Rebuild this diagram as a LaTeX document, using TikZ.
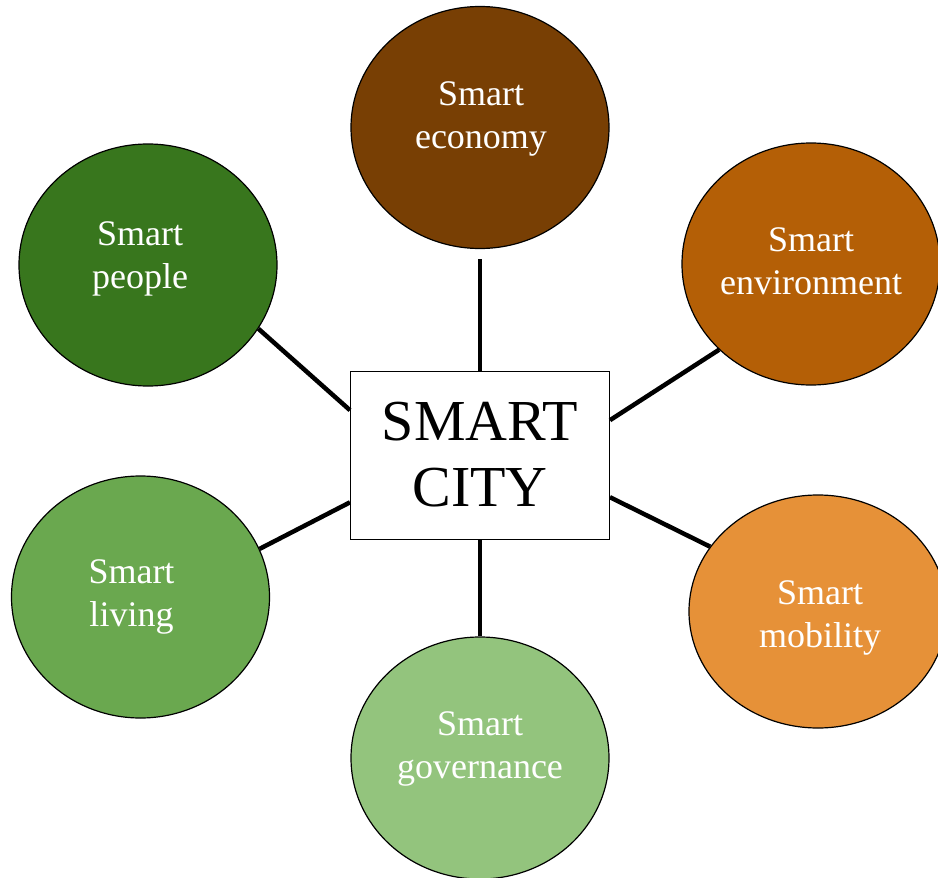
\documentclass[tikz,border=0pt]{standalone}
\usepackage{fontspec}
\setmainfont{Liberation Serif}
\usetikzlibrary{shapes.geometric}

\definecolor{econbrown}{HTML}{783F04}
\definecolor{envorange}{HTML}{B45F06}
\definecolor{mobiorange}{HTML}{E69138}
\definecolor{peoplegreen}{HTML}{38761D}
\definecolor{livinggreen}{HTML}{6AA84F}
\definecolor{govgreen}{HTML}{93C47D}

\begin{document}
\begin{tikzpicture}[x=1pt, y=-1pt,
    bubble/.style={ellipse, draw=black, line width=1.2pt, inner sep=0pt,
                   minimum width=258pt, minimum height=242pt},
    bubbletext/.style={text=white, align=center, font=\fontsize{36}{43}\selectfont},
    citybox/.style={draw=black, line width=1pt, fill=white, align=center,
                    minimum width=259pt, minimum height=168pt,
                    font=\fontsize{58}{66}\selectfont},
    link/.style={line width=4.5pt}]
    \useasboundingbox (0,0) rectangle (938,878);

    \node[citybox] (city) at (480,455) {SMART\\CITY};

    \node[bubble, fill=econbrown,
          label={[bubbletext, xshift=1pt, yshift=9pt]center:{Smart\\economy}}] (economy) at (480,127.5) {};
    \node[bubble, fill=envorange,
          label={[bubbletext, yshift=3pt]center:{Smart\\environment}}] (environment) at (811,264) {};
    \node[bubble, fill=peoplegreen,
          label={[bubbletext, xshift=-8pt, yshift=6pt]center:{Smart\\people}}] (people) at (148,265) {};
    \node[bubble, fill=livinggreen,
          label={[bubbletext, xshift=-9pt]center:{Smart\\living}}] (living) at (140.5,597) {};
    \node[bubble, fill=govgreen,
          label={[bubbletext, yshift=9pt]center:{Smart\\governance}}] (governance) at (480,758) {};
    \node[bubble, fill=mobiorange, minimum height=233pt,
          label={[bubbletext, xshift=2pt, yshift=-6pt]center:{Smart\\mobility}}] (mobility) at (818,611.5) {};

    \draw[link, shorten <=10pt] (economy.south) -- (city.north);
    \draw[link] (city.south) -- (governance.north);
    \draw[link] (people.330) -- (city.161);
    \draw[link] (environment.223) -- (city.15);
    \draw[link] (living.22) -- (city.200);
    \draw[link] (mobility.149) -- (city.-18);
\end{tikzpicture}
\end{document}
